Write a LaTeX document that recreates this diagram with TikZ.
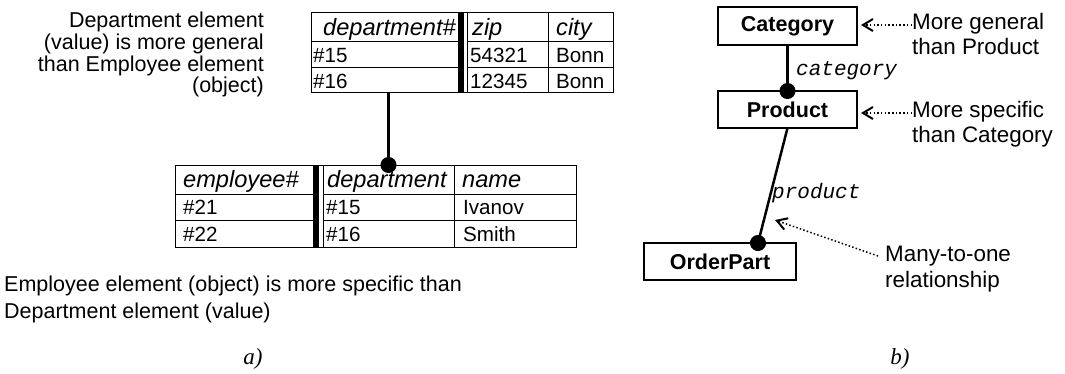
\documentclass[tikz,border=0pt]{standalone}
\usepackage{fontspec}
\setmainfont{Liberation Sans}
\newfontfamily\codefont{Liberation Mono}
\newfontfamily\capfont{Liberation Serif}
\usetikzlibrary{arrows.meta}

\tikzset{
  colbox/.style={draw, line width=1pt, inner sep=0pt, outer sep=0pt, anchor=north west},
  keybar/.style={fill, inner sep=0pt, outer sep=0pt, anchor=north west, minimum width=6pt},
  hd/.style={anchor=base west, inner sep=0pt, font=\fontsize{23.6}{23.6}\selectfont\itshape},
  td/.style={anchor=base west, inner sep=0pt, font=\fontsize{20.6}{20.6}\selectfont},
  ent/.style={draw, line width=1.5pt, inner sep=0pt, outer sep=0pt, minimum width=139pt, minimum height=37pt, font=\fontsize{21.5}{21.5}\selectfont\bfseries},
  link/.style={line width=2.5pt, -{Circle[length=16pt]}, shorten >=-8pt},
  role/.style={anchor=west, inner sep=0pt, font=\fontsize{21}{21}\selectfont\codefont\itshape},
  note/.style={line width=1.5pt, dash pattern=on 1.5pt off 2.2pt, -{Straight Barb[length=10pt,width=12pt,line width=2pt]}},
  txt/.style={inner sep=0pt, font=\fontsize{21.5}{21.7}\selectfont},
  remark/.style={inner sep=0pt, align=left, anchor=north west, font=\fontsize{22.4}{25.5}\selectfont},
  sublabel/.style={inner sep=0pt, font=\fontsize{23}{23}\selectfont\capfont\itshape}
}

\begin{document}
\begin{tikzpicture}[x=1pt, y=-1pt]
\useasboundingbox (0,0) rectangle (1065,373);
% a) department table
\node[colbox, minimum width=147pt, minimum height=80pt] (dKey) at (311,12) {};
\node[keybar, minimum height=80pt] (dBar) at (458,12) {};
\node[colbox, minimum width=80.5pt, minimum height=80pt] (dZip) at (467.5,12) {};
\node[colbox, minimum width=65pt, minimum height=80pt] (dCity) at (548,12) {};
\draw[line width=1pt] (dKey.north west) -- (dCity.north east) (dKey.south west) -- (dCity.south east);
\foreach \y in {41,67} {
  \draw[line width=1pt] (311,\y) -- (458,\y) (467.5,\y) -- (613,\y);
}
\node[hd] (dHd1) at (323,35) {department\#};
\node[hd] (dHd2) at (472,35) {zip};
\node[hd] (dHd3) at (556,35) {city};
\node[td] (d15) at (313,62) {\#15};
\node[td] (z15) at (470,62) {54321};
\node[td] (c15) at (556,62) {Bonn};
\node[td] (d16) at (313,88) {\#16};
\node[td] (z16) at (470,88) {12345};
\node[td] (c16) at (556,88) {Bonn};
% a) employee table
\node[colbox, minimum width=138pt, minimum height=82pt] (eKey) at (175,165) {};
\node[keybar, minimum height=82pt] (eBar) at (313,165) {};
\node[colbox, minimum width=131pt, minimum height=82pt] (eDept) at (323,165) {};
\node[colbox, minimum width=122pt, minimum height=82pt] (eName) at (454,165) {};
\draw[line width=1pt] (eKey.north west) -- (eName.north east) (eKey.south west) -- (eName.south east);
\foreach \y in {194,220} {
  \draw[line width=1pt] (175,\y) -- (313,\y) (323,\y) -- (576,\y);
}
\node[hd] (eHd1) at (183,187) {employee\#};
\node[hd] (eHd2) at (327,187) {department};
\node[hd] (eHd3) at (462,187) {name};
\node[td] (e21) at (183,214) {\#21};
\node[td] (r21) at (326,214) {\#15};
\node[td] (n21) at (463,214) {Ivanov};
\node[td] (e22) at (183,241) {\#22};
\node[td] (r22) at (326,241) {\#16};
\node[td] (n22) at (463,241) {Smith};
\draw[link] (eDept.north |- dKey.south) -- (eDept.north);
\node[txt, align=right, anchor=north east] (genA) at (264,12) {Department element\\(value) is more general\\than Employee element\\(object)};
\node[txt, align=left, anchor=north west, font=\fontsize{21.5}{27}\selectfont] (specA) at (4,276) {Employee element (object) is more specific than\\Department element (value)};
\node[sublabel] (capA) at (253,359) {a)};
% b) classes
\node[ent, minimum height=38pt] (cat) at (787.5,26) {Category};
\node[ent] (prod) at (787.5,109.5) {Product};
\node[ent, minimum width=152pt] (ord) at (720,261.5) {OrderPart};
\draw[link] (cat.south) -- (prod.north);
\draw[link] (prod.south) -- ([xshift=38pt]ord.north);
\node[role] (catRole) at (796,71) {category};
\node[role] (prodRole) at (772,193) {product};
\node[remark] (genB) at (912,13) {More general\\than Product};
\node[remark] (specB) at (912,101) {More specific\\than Category};
\node[remark] (manyB) at (885,246) {Many-to-one\\relationship};
\coordinate (genFrom) at ([yshift=-12pt]genB.north west);
\coordinate (specFrom) at ([yshift=-12pt]specB.north west);
\coordinate (manyFrom) at ([xshift=-7pt,yshift=-10pt]manyB.north west);
\coordinate (manyTip) at (775,220);
\draw[note, shorten >=4pt] (genFrom) -- (genFrom -| cat.east);
\draw[note, shorten >=4pt] (specFrom) -- (specFrom -| prod.east);
\draw[note] (manyFrom) -- (manyTip);
\node[sublabel] (capB) at (900,359) {b)};
\end{tikzpicture}
\end{document}
